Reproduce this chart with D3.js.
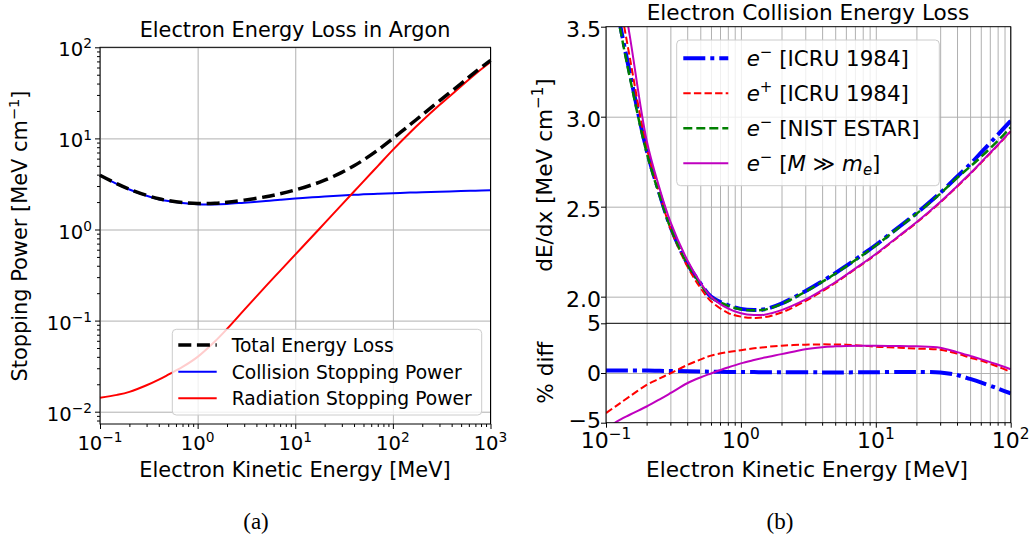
<!DOCTYPE html>
<html><head><meta charset="utf-8">
<script src="https://cdn.jsdelivr.net/npm/d3@7"></script>
<style>
body{margin:0;background:#fff}
svg{display:block}
text{font-family:"DejaVu Sans";fill:#000}
</style>
</head><body>
<svg id="c" width="1032" height="540"></svg>
<script>
// ---------- Panel (a) data: Electron energy loss in argon ----------
const energyA    = [0.1,0.15,0.2,0.3,0.4,0.5,0.7,1,1.5,2,3,5,7,10,15,20,30,40,50,70,100,150,200,300,500,700,1000];
const collisionA = [3.93,3.15,2.75,2.35,2.15,2.05,1.95,1.89,1.885,1.91,1.97,2.05,2.12,2.19,2.26,2.30,2.36,2.40,2.43,2.47,2.50,2.54,2.57,2.60,2.64,2.67,2.70];
const radiationA = [0.0142,0.0153,0.0165,0.0195,0.0225,0.0255,0.031,0.040,0.059,0.081,0.131,0.239,0.352,0.53,0.843,1.175,1.875,2.61,3.37,4.97,7.48,11.6,15.6,23.2,37.3,51,69];
const totalA     = [3.944,3.165,2.767,2.37,2.173,2.076,1.981,1.93,1.944,1.991,2.101,2.289,2.472,2.72,3.103,3.475,4.235,5.01,5.80,7.44,9.98,14.14,18.17,25.8,39.94,53.67,71.7];
const seriesA = ["Total Energy Loss","Collision Stopping Power","Radiation Stopping Power"];
const xTicksA = [-1,0,1,2,3];       // exponents of 10
const yTicksA = [-2,-1,0,1,2];

// ---------- Panel (b) data: Electron collision energy loss ----------
const energyB      = [0.1,0.12,0.15,0.2,0.25,0.3,0.4,0.5,0.6,0.8,1,1.25,1.5,2,3,4,5,6,8,10,15,20,30,40,50,60,80,100];
const icruElectron = [3.95,3.61,3.245,2.815,2.57,2.39,2.186,2.075,2.0,1.953,1.932,1.926,1.93,1.962,2.03,2.085,2.13,2.17,2.235,2.287,2.39,2.463,2.576,2.666,2.736,2.799,2.899,2.977];
const icruPositron = [4.2,3.75,3.33,2.83,2.57,2.38,2.17,2.05,1.975,1.91,1.889,1.882,1.886,1.912,1.975,2.03,2.076,2.117,2.182,2.234,2.337,2.41,2.523,2.611,2.681,2.742,2.84,2.918];
const nistEstar    = [3.92,3.59,3.22,2.80,2.56,2.385,2.182,2.072,1.997,1.95,1.93,1.924,1.928,1.959,2.027,2.082,2.127,2.167,2.232,2.284,2.387,2.46,2.572,2.66,2.722,2.775,2.865,2.94];
const heavyLimit   = [4.3,3.88,3.45,2.87,2.60,2.417,2.204,2.08,2.0,1.935,1.908,1.898,1.90,1.925,1.983,2.036,2.08,2.12,2.185,2.237,2.34,2.413,2.526,2.614,2.684,2.745,2.843,2.92];
const diffElectron = [0.25,0.25,0.25,0.25,0.22,0.2,0.18,0.15,0.13,0.11,0.1,0.09,0.08,0.08,0.07,0.06,0.05,0.06,0.07,0.08,0.1,0.1,0.05,-0.2,-0.6,-0.95,-1.55,-2.05];
const diffPositron = [-4.03,-3.28,-2.35,-1.2,-0.55,-0.03,0.8,1.35,1.75,2.1,2.3,2.48,2.6,2.75,2.85,2.88,2.87,2.85,2.75,2.65,2.55,2.45,2.35,1.95,1.55,1.25,0.65,0.1];
const diffHeavy    = [-5.7,-4.9,-4.2,-3.37,-2.65,-2.03,-1.03,-0.45,-0.05,0.55,0.97,1.3,1.55,1.9,2.4,2.6,2.68,2.72,2.73,2.73,2.72,2.68,2.55,2.1,1.72,1.4,0.85,0.37];
const xTicksB  = [-1,0,1,2];
const yTicksBt = [2.0,2.5,3.0,3.5];
const yTicksBb = [-5,0,5];

// ---------- helpers ----------
const svg = d3.select("#c");
const MINUS = "\u2212";
function richText(sel, parts, fs){
  let shift = 0;
  parts.forEach(p=>{
    const ts = sel.append("tspan").text(p.t);
    let want = 0;
    if(p.sup){ ts.attr("font-size", fs*0.7); want = -fs*0.40; }
    if(p.sub){ ts.attr("font-size", fs*0.7); want = fs*0.2; }
    if(want!==shift){ ts.attr("dy", want-shift); shift = want; }
    if(p.it) ts.style("font-style","italic");
  });
}
function expLabel(e){ return [{t:"10"},{t:(e<0?MINUS+(-e):""+e),sup:true}]; }
function minorLog(lo,hi){ const v=[]; for(let k=lo;k<hi;k++) for(let m=2;m<=9;m++) v.push(m*Math.pow(10,k)); return v; }
const GRID="#b0b0b0";
const CURVE = d3.curveCatmullRom.alpha(0.5);

// ================= Panel (a) =================
const AX = d3.scaleLog().domain([0.1,1000]).range([100,490.5]);
const AY = d3.scaleLog().domain([Math.pow(10,-2.135),100]).range([424,47.3]);
const gA = svg.append("g");
const fsTickA = 19.6;

gA.append("g").attr("transform","translate(0,424)")
  .call(d3.axisBottom(AX).tickValues(xTicksA.map(e=>Math.pow(10,e))).tickSize(-(424-47.3)).tickFormat(""))
  .call(g=>{g.select(".domain").remove(); g.selectAll("line").attr("stroke",GRID).attr("stroke-width",1);});
gA.append("g").attr("transform","translate(100,0)")
  .call(d3.axisLeft(AY).tickValues(yTicksA.map(e=>Math.pow(10,e))).tickSize(-(490.5-100)).tickFormat(""))
  .call(g=>{g.select(".domain").remove(); g.selectAll("line").attr("stroke",GRID).attr("stroke-width",1);});

const lineA = (ys)=> d3.line().x((d,i)=>AX(energyA[i])).y(d=>AY(d)).curve(CURVE)(ys);
gA.append("path").attr("d",lineA(collisionA)).attr("fill","none").attr("stroke","#0000ff").attr("stroke-width",2);
gA.append("path").attr("d",lineA(radiationA)).attr("fill","none").attr("stroke","#ff0000").attr("stroke-width",2);
gA.append("path").attr("d",lineA(totalA)).attr("fill","none").attr("stroke","#000").attr("stroke-width",3.5).attr("stroke-dasharray","13,5.6");

gA.append("rect").attr("x",100).attr("y",47.3).attr("width",390.5).attr("height",424-47.3).attr("fill","none").attr("stroke","#000").attr("stroke-width",1);

const axAb = gA.append("g").attr("transform","translate(0,424)")
  .call(d3.axisBottom(AX).tickValues(xTicksA.map(e=>Math.pow(10,e))).tickSize(5).tickFormat(""));
axAb.select(".domain").remove();
const axAbm = gA.append("g").attr("transform","translate(0,424)")
  .call(d3.axisBottom(AX).tickValues(minorLog(-1,3)).tickSize(3).tickFormat(""));
axAbm.select(".domain").remove();
const axAl = gA.append("g").attr("transform","translate(100,0)")
  .call(d3.axisLeft(AY).tickValues(yTicksA.map(e=>Math.pow(10,e))).tickSize(5).tickFormat(""));
axAl.select(".domain").remove();
const axAlm = gA.append("g").attr("transform","translate(100,0)")
  .call(d3.axisLeft(AY).tickValues(minorLog(-3,2).filter(v=>v>=AY.domain()[0])).tickSize(3).tickFormat(""));
axAlm.select(".domain").remove();

xTicksA.forEach(e=>{
  const t = gA.append("text").attr("x",AX(Math.pow(10,e))).attr("y",450).attr("text-anchor","middle").attr("font-size",fsTickA);
  richText(t, expLabel(e), fsTickA);
});
yTicksA.forEach(e=>{
  const t = gA.append("text").attr("x",92).attr("y",AY(Math.pow(10,e))+9).attr("text-anchor","end").attr("font-size",fsTickA);
  richText(t, expLabel(e), fsTickA);
});

gA.append("text").attr("x",295).attr("y",37.3).attr("text-anchor","middle").attr("font-size",20.8).text("Electron Energy Loss in Argon");
gA.append("text").attr("x",295).attr("y",476.5).attr("text-anchor","middle").attr("font-size",20.9).text("Electron Kinetic Energy [MeV]");
{
  const t = gA.append("text").attr("transform","translate(27,236) rotate(-90)").attr("text-anchor","middle").attr("font-size",20.9);
  richText(t,[{t:"Stopping Power [MeV cm"},{t:MINUS+"1",sup:true},{t:"]"}],20.9);
}

{
  const lg = gA.append("g");
  lg.append("rect").attr("x",172.3).attr("y",329.3).attr("width",309.4).attr("height",85.7).attr("rx",4)
    .attr("fill","#fff").attr("fill-opacity",0.8).attr("stroke","#cccccc").attr("stroke-width",1);
  const rows=[345,371.7,398.3];
  const styles=[{c:"#000",w:3.5,d:"13,5.6"},{c:"#0000ff",w:2,d:null},{c:"#ff0000",w:2,d:null}];
  seriesA.forEach((s,i)=>{
    const l = lg.append("line").attr("x1",178.3).attr("x2",216.7).attr("y1",rows[i]).attr("y2",rows[i])
      .attr("stroke",styles[i].c).attr("stroke-width",styles[i].w);
    if(styles[i].d) l.attr("stroke-dasharray",styles[i].d);
    lg.append("text").attr("x",231.7).attr("y",rows[i]+6.8).attr("font-size",18.7).text(s);
  });
}

// ================= Panel (b) =================
const BX  = d3.scaleLog().domain([0.1,100]).range([606,1010.7]);
const BYt = d3.scaleLinear().domain([1.852,3.5]).range([323.3,26.7]);
const BYb = d3.scaleLinear().domain([-5,5]).range([422.7,323.3]);
const gB = svg.append("g");
const fsTickB = 22;

const allX = xTicksB.map(e=>Math.pow(10,e)).concat(minorLog(-1,2));
gB.append("g").attr("transform","translate(0,422.7)")
  .call(d3.axisBottom(BX).tickValues(allX).tickSize(-(422.7-26.7)).tickFormat(""))
  .call(g=>{g.select(".domain").remove(); g.selectAll("line").attr("stroke",GRID).attr("stroke-width",1);});
gB.append("g").attr("transform","translate(606,0)")
  .call(d3.axisLeft(BYt).tickValues([2.0,2.5,3.0]).tickSize(-(1010.7-606)).tickFormat(""))
  .call(g=>{g.select(".domain").remove(); g.selectAll("line").attr("stroke",GRID).attr("stroke-width",1);});
gB.append("g").attr("transform","translate(606,0)")
  .call(d3.axisLeft(BYb).tickValues([0]).tickSize(-(1010.7-606)).tickFormat(""))
  .call(g=>{g.select(".domain").remove(); g.selectAll("line").attr("stroke",GRID).attr("stroke-width",1);});

const defs = svg.append("defs");
defs.append("clipPath").attr("id","clipTop").append("rect").attr("x",606).attr("y",26.7).attr("width",404.7).attr("height",323.3-26.7);
defs.append("clipPath").attr("id","clipBot").append("rect").attr("x",606).attr("y",323.3).attr("width",404.7).attr("height",422.7-323.3);

const lineBt = (ys)=> d3.line().x((d,i)=>BX(energyB[i])).y(d=>BYt(d)).curve(CURVE)(ys);
const lineBb = (ys)=> d3.line().x((d,i)=>BX(energyB[i])).y(d=>BYb(d)).curve(CURVE)(ys);
const stB = {
  e:  {c:"#0000ff",w:4,d:"22,5,4,5"},
  p:  {c:"#ff0000",w:2,d:"7.4,3.2"},
  n:  {c:"#008000",w:2.5,d:"9,4"},
  h:  {c:"#bf00bf",w:2,d:null}
};
function styl(p,s){ p.attr("fill","none").attr("stroke",s.c).attr("stroke-width",s.w); if(s.d) p.attr("stroke-dasharray",s.d); return p; }
const topG = gB.append("g").attr("clip-path","url(#clipTop)");
styl(topG.append("path").attr("d",lineBt(icruElectron)),stB.e);
styl(topG.append("path").attr("d",lineBt(icruPositron)),stB.p);
styl(topG.append("path").attr("d",lineBt(nistEstar)),stB.n);
styl(topG.append("path").attr("d",lineBt(heavyLimit)),stB.h);
const botG = gB.append("g").attr("clip-path","url(#clipBot)");
styl(botG.append("path").attr("d",lineBb(diffElectron)),stB.e);
styl(botG.append("path").attr("d",lineBb(diffPositron)),stB.p);
styl(botG.append("path").attr("d",lineBb(diffHeavy)),stB.h);

gB.append("rect").attr("x",606).attr("y",26.7).attr("width",404.7).attr("height",422.7-26.7).attr("fill","none").attr("stroke","#000").attr("stroke-width",1);
gB.append("line").attr("x1",606).attr("x2",1010.7).attr("y1",323.3).attr("y2",323.3).attr("stroke","#000").attr("stroke-width",1);

const bxa = gB.append("g").attr("transform","translate(0,422.7)")
  .call(d3.axisBottom(BX).tickValues(xTicksB.map(e=>Math.pow(10,e))).tickSize(5).tickFormat(""));
bxa.select(".domain").remove();
const bxm = gB.append("g").attr("transform","translate(0,422.7)")
  .call(d3.axisBottom(BX).tickValues(minorLog(-1,2)).tickSize(3).tickFormat(""));
bxm.select(".domain").remove();
const byt = gB.append("g").attr("transform","translate(606,0)")
  .call(d3.axisLeft(BYt).tickValues(yTicksBt).tickSize(5).tickFormat(""));
byt.select(".domain").remove();
const byb = gB.append("g").attr("transform","translate(606,0)")
  .call(d3.axisLeft(BYb).tickValues(yTicksBb).tickSize(5).tickFormat(""));
byb.select(".domain").remove();

xTicksB.forEach(e=>{
  const t = gB.append("text").attr("x",BX(Math.pow(10,e))).attr("y",448).attr("text-anchor","middle").attr("font-size",fsTickB);
  richText(t, expLabel(e), fsTickB);
});
yTicksBt.forEach(v=>{
  gB.append("text").attr("x",601).attr("y",BYt(v)+10).attr("text-anchor","end").attr("font-size",fsTickB).text(d3.format(".1f")(v));
});
yTicksBb.forEach(v=>{
  gB.append("text").attr("x",601).attr("y",BYb(v)+(v<0?5:8)).attr("text-anchor","end").attr("font-size",fsTickB).text(v<0?MINUS+(-v):""+v);
});

gB.append("text").attr("x",808).attr("y",20).attr("text-anchor","middle").attr("font-size",21.6).text("Electron Collision Energy Loss");
gB.append("text").attr("x",807).attr("y",476.5).attr("text-anchor","middle").attr("font-size",21.6).text("Electron Kinetic Energy [MeV]");
{
  const t = gB.append("text").attr("transform","translate(552,175) rotate(-90)").attr("text-anchor","middle").attr("font-size",21.6);
  richText(t,[{t:"dE/dx [MeV cm"},{t:MINUS+"1",sup:true},{t:"]"}],21.6);
  gB.append("text").attr("transform","translate(553,372.7) rotate(-90)").attr("text-anchor","middle").attr("font-size",21.6).text("% diff");
}

{
  const fsL = 21.4;
  const lg = gB.append("g");
  lg.append("rect").attr("x",676.7).attr("y",40).attr("width",262.6).attr("height",145.7).attr("rx",4)
    .attr("fill","#fff").attr("fill-opacity",0.8).attr("stroke","#cccccc").attr("stroke-width",1);
  const rows=[58.3,93.3,128.3,163.3];
  const labels=[
    [{t:"e",it:true},{t:MINUS,sup:true},{t:" [ICRU 1984]"}],
    [{t:"e",it:true},{t:"+",sup:true},{t:" [ICRU 1984]"}],
    [{t:"e",it:true},{t:MINUS,sup:true},{t:" [NIST ESTAR]"}],
    [{t:"e",it:true},{t:MINUS,sup:true},{t:" ["},{t:"M",it:true},{t:" \u226B "},{t:"m",it:true},{t:"e",it:true,sub:true},{t:"]"}]
  ];
  const sts=[stB.e,stB.p,stB.n,stB.h];
  labels.forEach((lb,i)=>{
    styl(lg.append("path").attr("d",`M683.3,${rows[i]}H728.3`),sts[i]);
    const t = lg.append("text").attr("x",746.7).attr("y",rows[i]+7.5).attr("font-size",fsL);
    richText(t, lb, fsL);
  });
}

svg.append("text").attr("x",256).attr("y",529).attr("text-anchor","middle").style("font-family","Liberation Serif").attr("font-size",23).text("(a)");
svg.append("text").attr("x",780).attr("y",529).attr("text-anchor","middle").style("font-family","Liberation Serif").attr("font-size",23).text("(b)");
</script>
</body></html>
